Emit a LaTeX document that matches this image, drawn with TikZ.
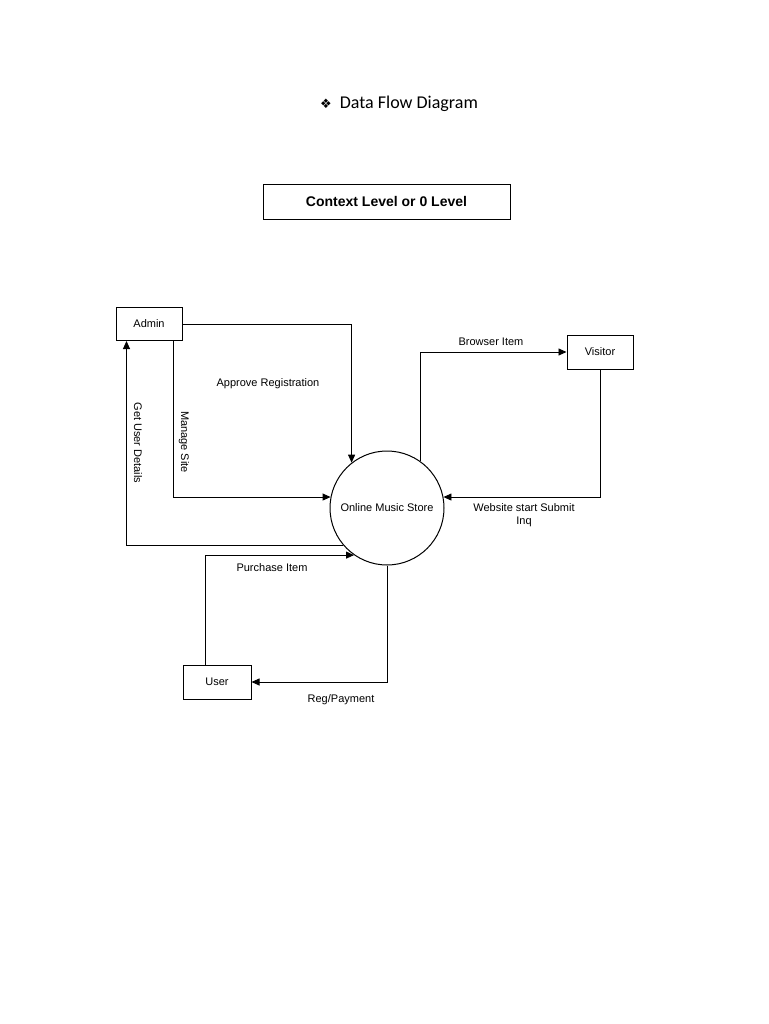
\documentclass[tikz,border=0pt]{standalone}
\usepackage{fontspec}
\setmainfont{Liberation Sans}
\newfontfamily\titlefont{Carlito}
\newfontfamily\symfont{DejaVu Sans}
\usetikzlibrary{arrows.meta}

\tikzset{
  entity/.style={rectangle, draw, line width=1pt, minimum width=66pt, minimum height=33pt, font=\fontsize{11}{13}\selectfont},
  process/.style={circle, draw, line width=1pt, minimum size=114pt, inner sep=0pt, font=\fontsize{11}{13}\selectfont},
  flow/.style={draw, line width=0.9pt, -{Triangle[length=8pt,width=7pt]}},
  label/.style={font=\fontsize{11}{13}\selectfont, inner sep=1pt}
}

\begin{document}
\begin{tikzpicture}[x=1pt,y=-1pt]
	\useasboundingbox (0,0) rectangle (768,1024);
	% headings
	\node [font=\titlefont\fontsize{18}{20}\selectfont] (title) at (399,104) {{\symfont\fontsize{13}{13}\selectfont ❖}\ \ Data Flow Diagram};
	\node [rectangle, draw, line width=0.8pt, minimum width=247pt, minimum height=35pt, font=\bfseries\fontsize{14}{16}\selectfont] (level) at (386.5,201.5) {Context Level or 0 Level};
	%
	\node [entity] (admin) at (149,324) {Admin};
	\node [entity, minimum height=34pt] (visitor) at (600,352) {Visitor};
	\node [entity, minimum width=68pt, minimum height=34pt] (user) at (217,682) {User};
	\node [process] (store) at (387,508) {Online Music Store};
	%
	\draw [flow] (admin.east) -| (store.128);
	\draw [flow] ([xshift=-9pt]admin.south east) |- (store.169);
	\draw [flow] (store.220) -| ([xshift=11pt]admin.south west);
	\draw [flow] ([xshift=23pt]user.north west) |- (store.235);
	\draw [flow] (store.south) |- (user.east);
	\draw [flow] (store.55) |- (visitor.west);
	\draw [flow] (visitor.south) |- (store.11);
	%
	\node [label] (lapprove) at (268,384) {Approve Registration};
	\node [label, rotate=-90] (lmanage) at (184,442) {Manage Site};
	\node [label, rotate=-90] (lget) at (138,443) {Get User Details};
	\node [label] (lpurchase) at (272,568) {Purchase Item};
	\node [label] (lreg) at (341,700) {Reg/Payment};
	\node [label] (lbrowser) at (491,342) {Browser Item};
	\node [label, align=center] (lweb) at (524,515) {Website start Submit\\Inq};
\end{tikzpicture}
\end{document}
